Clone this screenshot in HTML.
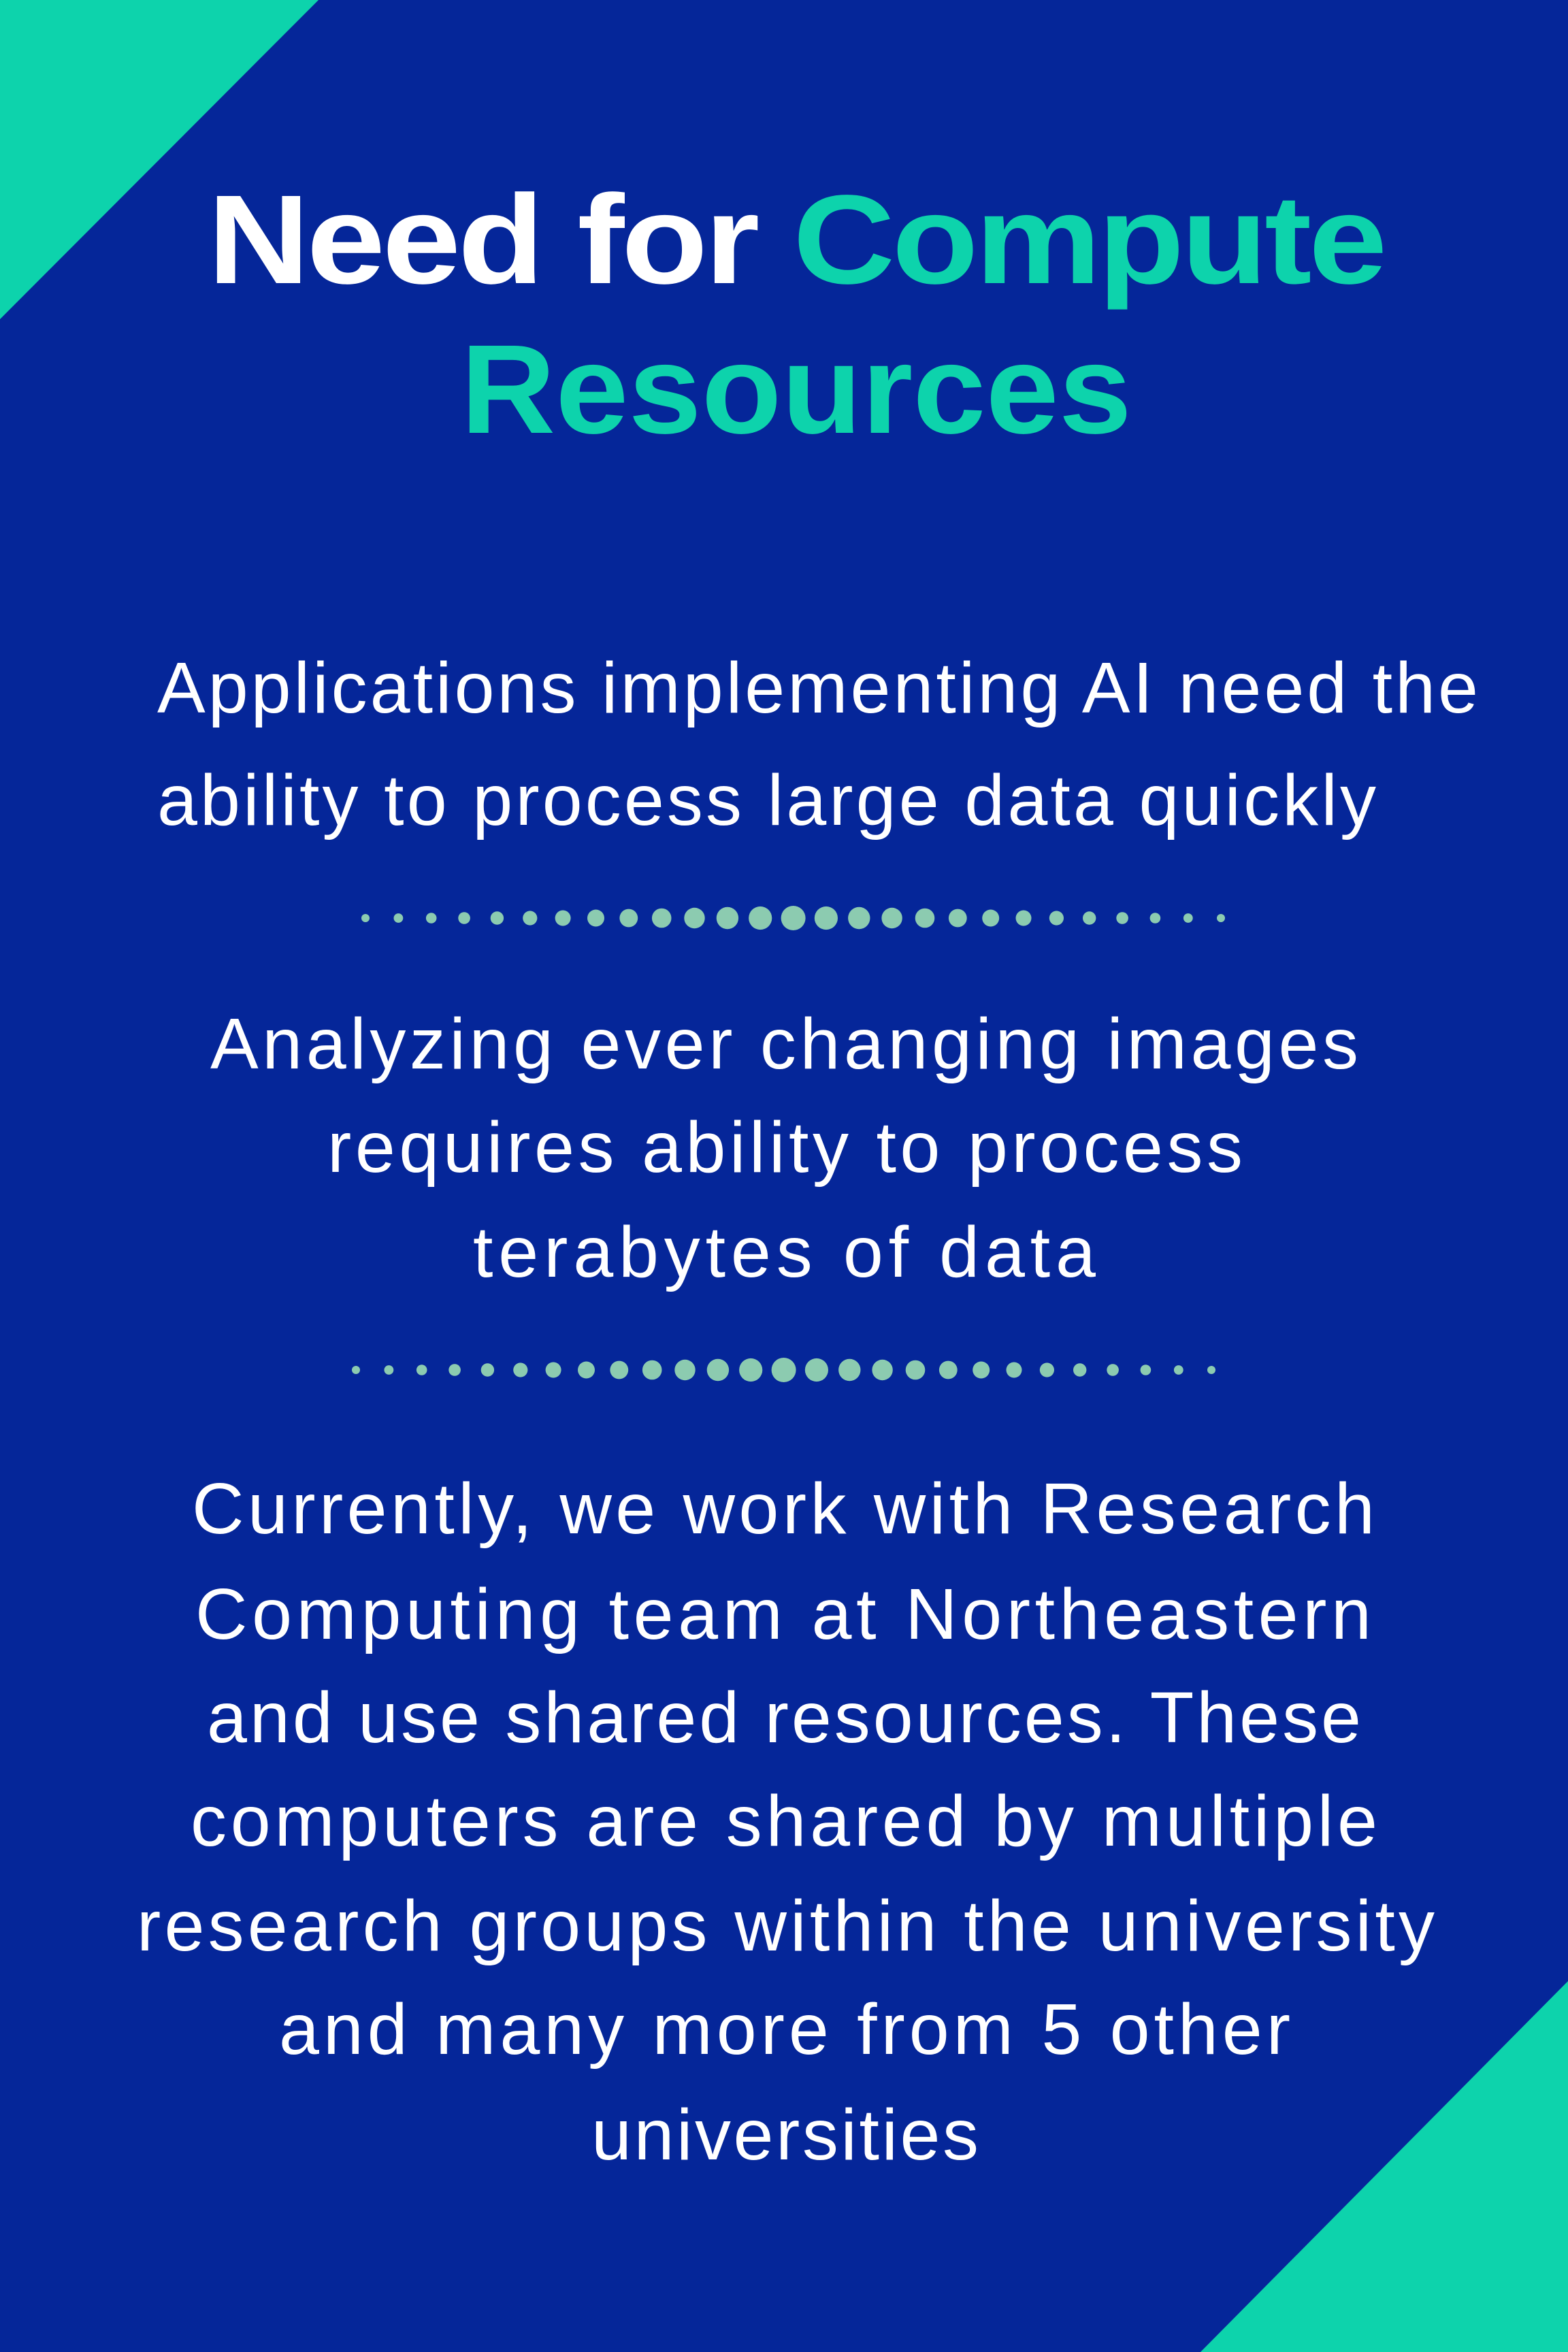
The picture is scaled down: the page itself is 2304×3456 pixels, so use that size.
<!DOCTYPE html>
<html><head><meta charset="utf-8"><style>
html,body{margin:0;padding:0;background:#052699;}
svg{display:block}
</style></head><body>
<svg width="2304" height="3456" viewBox="0 0 2304 3456" xmlns="http://www.w3.org/2000/svg">
<rect width="2304" height="3456" fill="#052699"/>
<polygon points="0,0 468,0 0,469" fill="#0dd3ac"/>
<polygon points="2304,2911 2304,3456 1764,3456" fill="#0dd3ac"/>
<g font-family="Liberation Sans, sans-serif" font-weight="bold" font-size="186">
<text x="305" y="416" textLength="1729" lengthAdjust="spacingAndGlyphs" fill="#fff" letter-spacing="-4">Need for <tspan fill="#0dd3ac">Compute</tspan></text>
<text x="677" y="636" textLength="986" lengthAdjust="spacingAndGlyphs" fill="#0dd3ac">Resources</text>
</g>
<g font-family="Liberation Sans, sans-serif" font-size="106" fill="#fff" lengthAdjust="spacing">
<text x="231" y="1047" textLength="1941">Applications implementing AI need the</text>
<text x="231" y="1212" textLength="1791">ability to process large data quickly</text>
<text x="309" y="1570" textLength="1687">Analyzing ever changing images</text>
<text x="481" y="1722" textLength="1345">requires ability to process</text>
<text x="695" y="1876" textLength="915">terabytes of data</text>
<text x="282" y="2253" textLength="1738">Currently, we work with Research</text>
<text x="287" y="2408" textLength="1728">Computing team at Northeastern</text>
<text x="304" y="2560" textLength="1696">and use shared resources. These</text>
<text x="280" y="2712" textLength="1744">computers are shared by multiple</text>
<text x="201" y="2866" textLength="1907">research groups within the university</text>
<text x="410" y="3018" textLength="1486">and many more from 5 other</text>
<text x="869" y="3173" textLength="569">universities</text>
</g>
<g id="d" fill="#8ccbb0">
<circle cx="537" cy="1349" r="6"/><circle cx="585.4" cy="1349" r="6.9"/><circle cx="633.7" cy="1349" r="7.8"/><circle cx="682.1" cy="1349" r="8.8"/><circle cx="730.4" cy="1349" r="9.7"/><circle cx="778.8" cy="1349" r="10.6"/><circle cx="827.1" cy="1349" r="11.5"/><circle cx="875.5" cy="1349" r="12.5"/><circle cx="923.8" cy="1349" r="13.4"/><circle cx="972.2" cy="1349" r="14.3"/><circle cx="1020.5" cy="1349" r="15.2"/><circle cx="1068.9" cy="1349" r="16.2"/><circle cx="1117.2" cy="1349" r="17.1"/><circle cx="1165.6" cy="1349" r="18"/><circle cx="1213.9" cy="1349" r="17.1"/><circle cx="1262.3" cy="1349" r="16.2"/><circle cx="1310.6" cy="1349" r="15.2"/><circle cx="1359" cy="1349" r="14.3"/><circle cx="1407.3" cy="1349" r="13.4"/><circle cx="1455.7" cy="1349" r="12.5"/><circle cx="1504" cy="1349" r="11.5"/><circle cx="1552.4" cy="1349" r="10.6"/><circle cx="1600.7" cy="1349" r="9.7"/><circle cx="1649.1" cy="1349" r="8.8"/><circle cx="1697.4" cy="1349" r="7.8"/><circle cx="1745.8" cy="1349" r="6.9"/><circle cx="1794" cy="1349" r="6"/>
</g>
<use href="#d" transform="translate(-14,664)"/>
</svg>
</body></html>
